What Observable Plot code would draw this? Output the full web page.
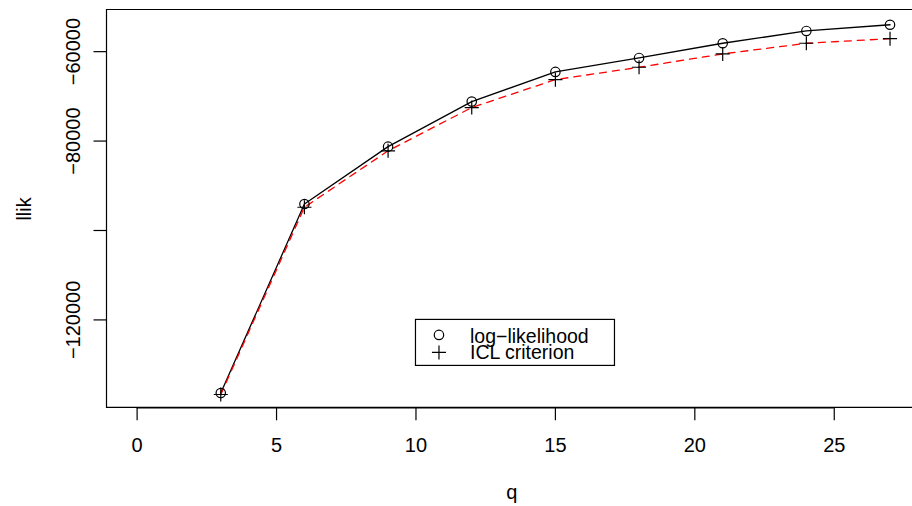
<!DOCTYPE html>
<html>
<head>
<meta charset="utf-8">
<script src="https://cdn.jsdelivr.net/npm/d3@7"></script>
<script src="https://cdn.jsdelivr.net/npm/@observablehq/plot@0.6"></script>
<style>
  html, body { margin: 0; padding: 0; background: white; }
  #chart svg { display: block; }
</style>
</head>
<body>
<div id="chart"></div>
<script>
// ---- data ----
const q = [3, 6, 9, 12, 15, 18, 21, 24, 27];
const loglik = [-136361, -94088, -81243, -71169, -64535, -61407, -58124, -55376, -53980];
const icl = [-136686, -94803, -82182, -72509, -66255, -63485, -60514, -58124, -57096];
const xTicks = [0, 5, 10, 15, 20, 25];
const yTicks = [-60000, -80000, -100000, -120000];
const yTickLabels = [-60000, -80000, -120000];
const legendLabels = ["log\u2212likelihood", "ICL criterion"];
const legendSymbols = ["circle", "plus"];
const legendAt = {x: 10, y: -120000};

const rowsLL = q.map((d, i) => ({q: d, v: loglik[i]}));
const rowsICL = q.map((d, i) => ({q: d, v: icl[i]}));
const legendRows = legendLabels.map((t, i) => ({label: t, symbol: legendSymbols[i], i}));

const fmt = v => (v < 0 ? "\u2212" : "") + Math.abs(v);
const svgns = "http://www.w3.org/2000/svg";

const plot = Plot.plot({
  width: 912,
  height: 506,
  marginLeft: 106.5,
  marginRight: 0,
  marginTop: 9.5,
  marginBottom: 98.7,
  style: {fontFamily: "'Liberation Sans', Arial, Helvetica, sans-serif", fontSize: "20px", background: "white", color: "black"},
  x: {domain: [-1.08, 27.806]},
  y: {domain: [-139657, -50685]},
  marks: [
    // three-sided box (right edge lies outside the picture)
    (index, scales, values, dim) => {
      const p = document.createElementNS(svgns, "path");
      const l = dim.marginLeft, t = dim.marginTop, b = dim.height - dim.marginBottom, r = dim.width;
      p.setAttribute("d", `M${r},${t}H${l}V${b}H${r}`);
      p.setAttribute("fill", "none");
      p.setAttribute("stroke", "black");
      p.setAttribute("stroke-width", "1.2");
      return p;
    },
    Plot.axisX({ticks: xTicks, tickSize: 13, tickPadding: 16.5, label: null, stroke: "black", strokeWidth: 1.2, fill: "black", fontSize: 20}),
    Plot.ruleY([0], {x1: xTicks[0], x2: xTicks[xTicks.length - 1], y: () => -139657, stroke: "black", strokeWidth: 1.2}),
    Plot.axisY({ticks: yTicks, tickSize: 13, tickFormat: () => "", label: null, stroke: "black", strokeWidth: 1.2}),
    Plot.text(yTickLabels, {y: d => d, frameAnchor: "left", dx: -27, text: fmt, rotate: -90, textAnchor: "middle", lineAnchor: "bottom", fill: "black", fontSize: 20}),
    Plot.text(["llik"], {frameAnchor: "left", dx: -76, rotate: -90, textAnchor: "middle", lineAnchor: "bottom", fill: "black", fontSize: 20}),
    Plot.text(["q"], {frameAnchor: "bottom", dx: 2, dy: 91, textAnchor: "middle", lineAnchor: "bottom", fill: "black", fontSize: 20}),
    // series
    Plot.line(rowsLL, {x: "q", y: "v", stroke: "black", strokeWidth: 1.3}),
    Plot.line(rowsICL, {x: "q", y: "v", stroke: "red", strokeWidth: 1.3, strokeDasharray: "7,6"}),
    Plot.dot(rowsLL, {x: "q", y: "v", symbol: "circle", r: 4.7, stroke: "black", fill: "none", strokeWidth: 1.2}),
    Plot.dot(rowsICL, {x: "q", y: "v", symbol: "plus", r: 4.6, stroke: "black", strokeWidth: 1.2}),
    // legend box anchored at data coordinates
    (index, scales) => {
      const rect = document.createElementNS(svgns, "rect");
      rect.setAttribute("x", scales.x(legendAt.x));
      rect.setAttribute("y", scales.y(legendAt.y));
      rect.setAttribute("width", 199);
      rect.setAttribute("height", 46);
      rect.setAttribute("fill", "white");
      rect.setAttribute("stroke", "black");
      rect.setAttribute("stroke-width", "1.2");
      return rect;
    },
    Plot.dot(legendRows.filter(d => d.symbol === "circle"), {x: () => legendAt.x, y: () => legendAt.y, dx: 23, dy: 15, symbol: "circle", r: 4.7, stroke: "black", fill: "none", strokeWidth: 1.2}),
    Plot.dot(legendRows.filter(d => d.symbol === "plus"), {x: () => legendAt.x, y: () => legendAt.y, dx: 23, dy: 32.5, symbol: "plus", r: 4.6, stroke: "black", strokeWidth: 1.2}),
    Plot.text(legendRows.filter(d => d.i === 0), {x: () => legendAt.x, y: () => legendAt.y, dx: 54, dy: 23.5, text: "label", textAnchor: "start", lineAnchor: "bottom", fill: "black", fontSize: 19.5}),
    Plot.text(legendRows.filter(d => d.i === 1), {x: () => legendAt.x, y: () => legendAt.y, dx: 54, dy: 39.5, text: "label", textAnchor: "start", lineAnchor: "bottom", fill: "black", fontSize: 19.5})
  ]
});
document.getElementById("chart").appendChild(plot);
</script>
</body>
</html>
